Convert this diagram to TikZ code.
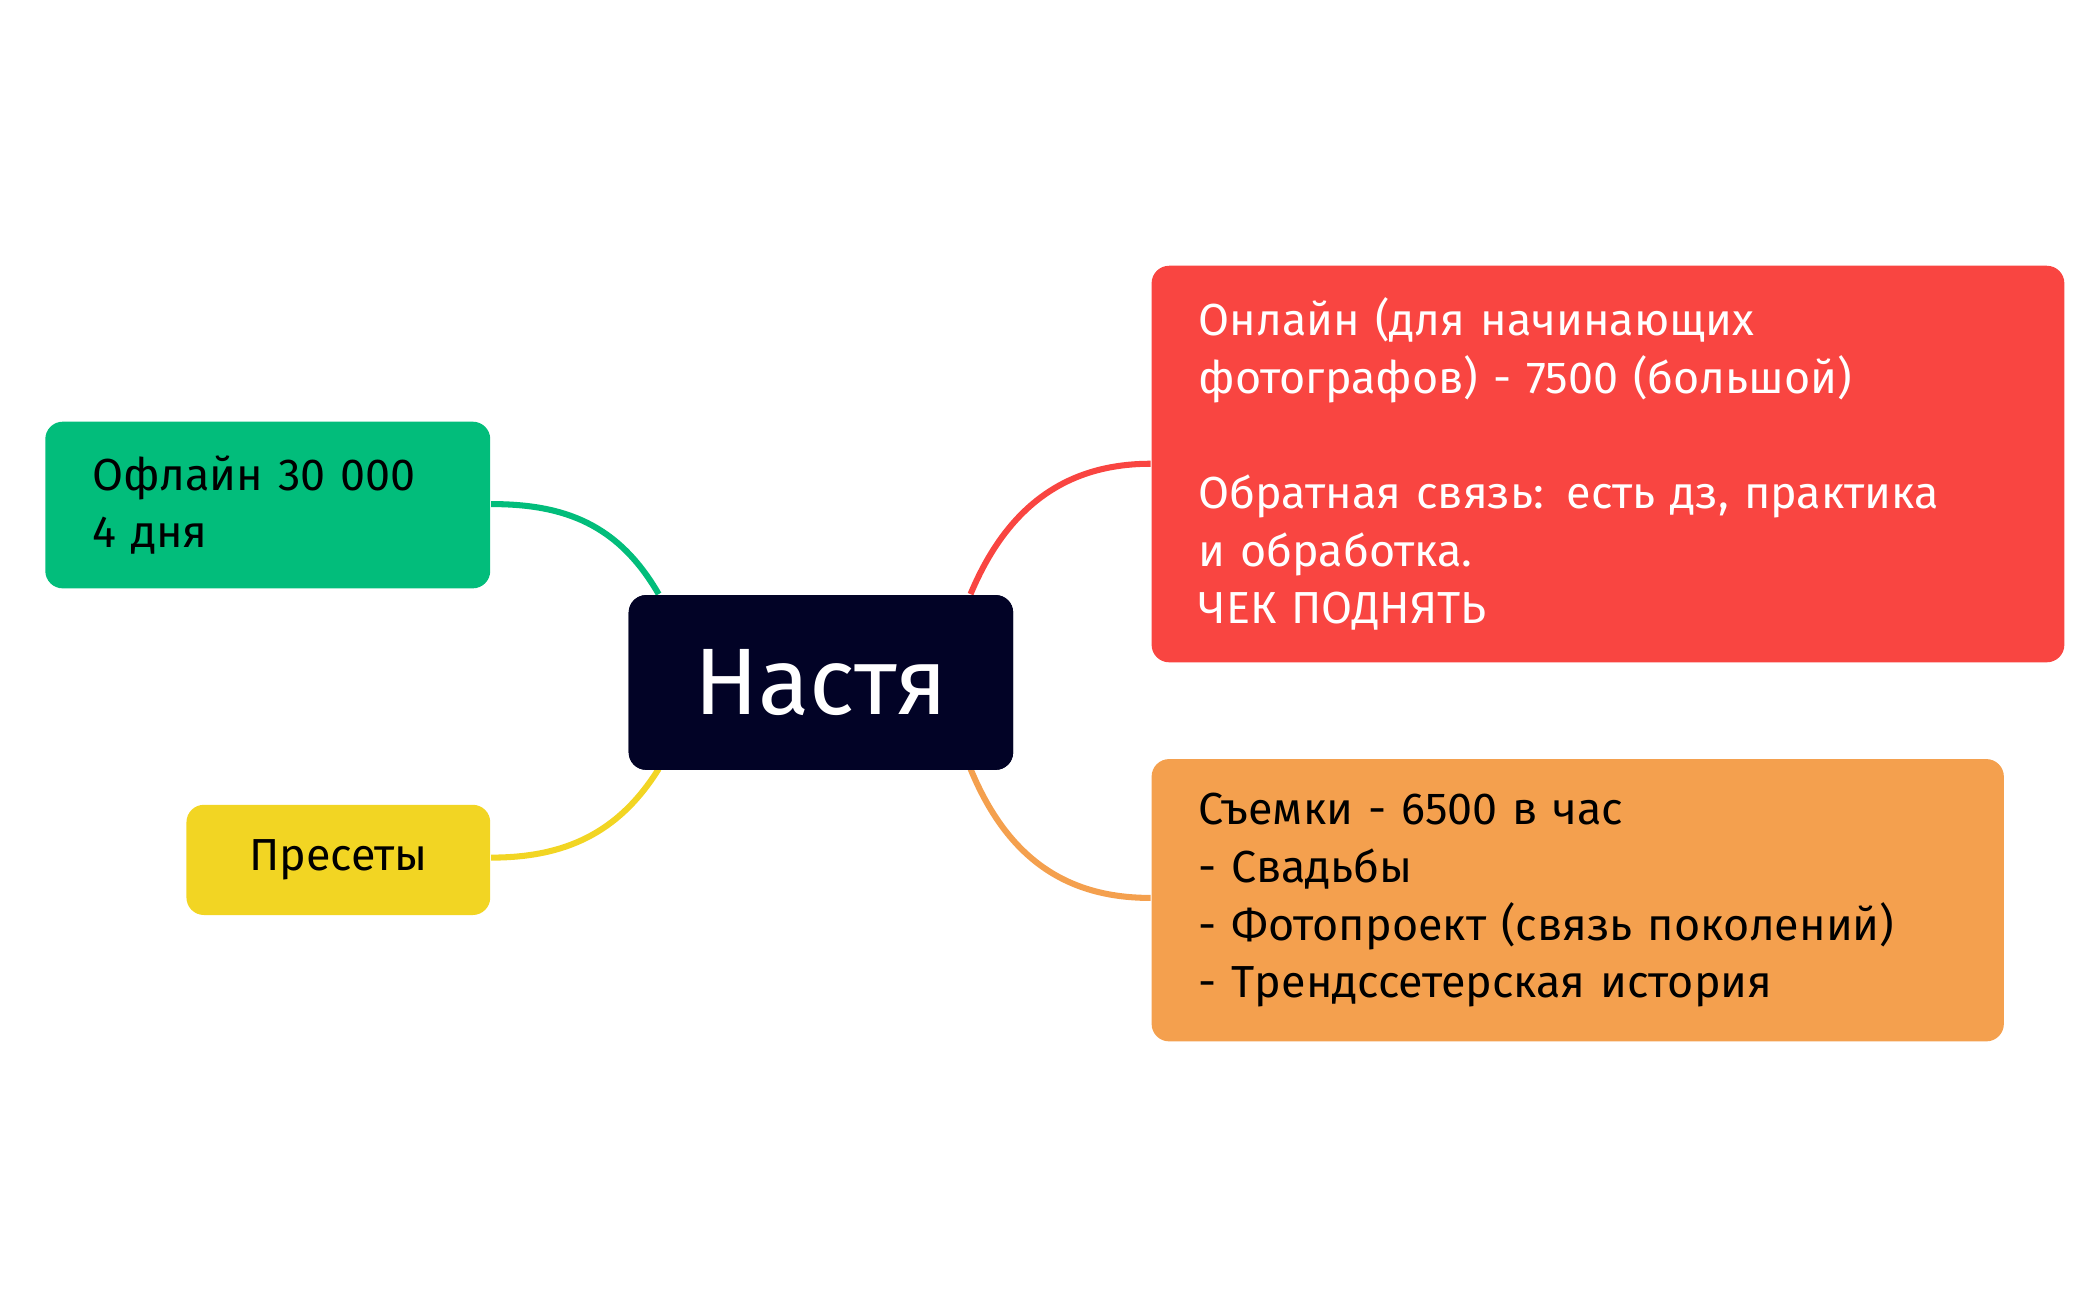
\documentclass[tikz,border=0pt]{standalone}
\usepackage{fontspec}
\setmainfont{Fira Sans}
\definecolor{cgreen}{HTML}{02BD7B}
\definecolor{cyellow}{HTML}{F2D523}
\definecolor{cnavy}{HTML}{020326}
\definecolor{cred}{HTML}{F94541}
\definecolor{corange}{HTML}{F4A04E}
\begin{document}
\begin{tikzpicture}[x=0.1mm,y=-0.1mm,
  box/.style={rounded corners=1.3mm,anchor=north west,align=left,inner xsep=3.5mm,inner ysep=0pt,font=\fontsize{9.5}{12.2}\selectfont},
  link/.style={line width=0.45mm}]
\useasboundingbox (0,0) rectangle (1560,967);
\node[box,fill=cgreen,minimum width=33.1mm,minimum height=12.4mm,text width=26.1mm] (off) at (33,313) {Офлайн 30 000\\4 дня};
\node[box,fill=cyellow,minimum width=22.6mm,minimum height=8.2mm,align=center,text width=15.6mm] (pre) at (138,598) {Пресеты};
\node[rounded corners=1.3mm,fill=cnavy,minimum width=28.6mm,minimum height=13mm,anchor=north west,text=white,font=\fontsize{20}{24}\selectfont] (c) at (467,442) {Настя};
\node[box,fill=cred,text=white,minimum width=67.9mm,minimum height=29.5mm,text width=60.9mm] (on) at (856,197) {Онлайн (для начинающих\\фотографов) - 7500 (большой)\\[12.2pt]Обратная связь: есть дз, практика\\и обработка.\\ЧЕК ПОДНЯТЬ};
\node[box,fill=corange,minimum width=63.4mm,minimum height=21mm,text width=56.4mm] (sh) at (856,564) {Съемки - 6500 в час\\- Свадьбы\\- Фотопроект (связь поколений)\\- Трендссетерская история};
\coordinate (cgA) at (490,442);
\coordinate (cyA) at (490,572);
\coordinate (crA) at (722,442);
\coordinate (coA) at (722,572);
\draw[link,cgreen] (cgA) .. controls (460,390) and (420,375) .. (off.east |- 0,375);
\draw[link,cyellow] (cyA) .. controls (460,620) and (420,638) .. (pre.east |- 0,638);
\draw[link,cred] (crA) .. controls (752,370) and (800,345) .. (on.west |- 0,345);
\draw[link,corange] (coA) .. controls (752,645) and (800,668) .. (sh.west |- 0,668);
\node[rounded corners=1.3mm,fill=cnavy,minimum width=28.6mm,minimum height=13mm,anchor=north west,text=white,font=\fontsize{20}{24}\selectfont] (c2) at (467,442) {Настя};
\end{tikzpicture}
\end{document}
